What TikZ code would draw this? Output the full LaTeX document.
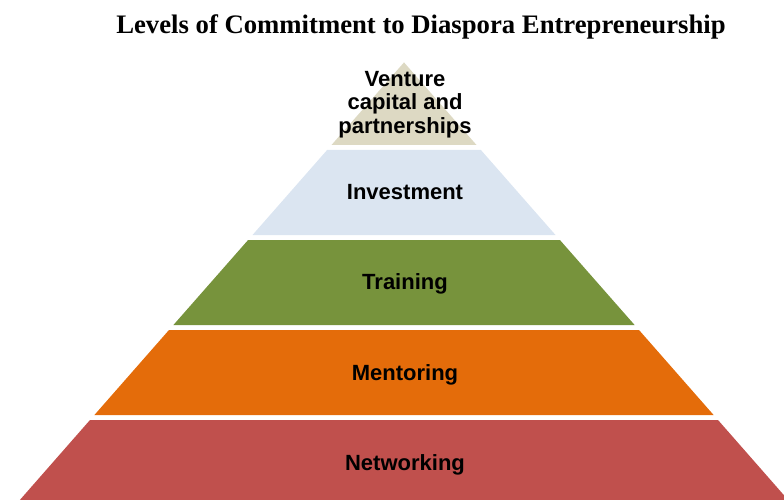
\documentclass[tikz,border=0pt]{standalone}
\usepackage{fontspec}
\setmainfont{Liberation Serif}
\newfontfamily\labelfont{Liberation Sans}
\definecolor{tierTan}{HTML}{DDD9C3}
\definecolor{tierBlue}{HTML}{DBE5F1}
\definecolor{tierGreen}{HTML}{77933C}
\definecolor{tierOrange}{HTML}{E46C0A}
\definecolor{tierRed}{HTML}{C0504D}
\begin{document}
\begin{tikzpicture}[x=1pt,y=1pt,
  tierlabel/.style={anchor=base,inner sep=0pt,font=\labelfont\bfseries\fontsize{22}{24}\selectfont,text=black},
  titletext/.style={anchor=base,inner sep=0pt,font=\bfseries\fontsize{26.7}{30}\selectfont}]
\useasboundingbox (0,0) rectangle (784,499);
\begin{scope}
\clip (0,0) rectangle (784,499);
% pyramid tiers, top to bottom
\fill[tierTan]    (404,436.6) -- (476.5,354) -- (331.5,354) -- cycle;
\fill[tierBlue]   (327.1,349) -- (480.9,349) -- (555.5,264) -- (252.5,264) -- cycle;
\fill[tierGreen]  (248.1,259) -- (559.9,259) -- (634.6,174) -- (173.4,174) -- cycle;
\fill[tierOrange] (169,169) -- (639,169) -- (713.6,84) -- (94.4,84) -- cycle;
\fill[tierRed]    (90,79) -- (718,79) -- (805.7,-21) -- (2.3,-21) -- cycle;
\end{scope}
% title
\node[titletext] (title) at (421,465) {Levels of Commitment to Diaspora Entrepreneurship};
% tier labels
\node[tierlabel] (venture1) at (405,412) {Venture};
\node[tierlabel] (venture2) at (405,389) {capital and};
\node[tierlabel] (venture3) at (405,366) {partnerships};
\node[tierlabel] (invest) at (405,300) {Investment};
\node[tierlabel] (train) at (405,209.5) {Training};
\node[tierlabel] (mentor) at (405,119) {Mentoring};
\node[tierlabel] (network) at (405,29) {Networking};
\end{tikzpicture}
\end{document}
